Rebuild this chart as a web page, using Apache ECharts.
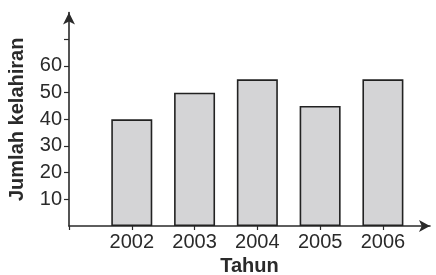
<!DOCTYPE html>
<html>
<head>
<meta charset="utf-8">
<script src="https://cdn.jsdelivr.net/npm/echarts@6/dist/echarts.min.js"></script>
<style>
  html, body { margin: 0; padding: 0; background: #fff; }
  #chart { width: 436px; height: 275px; }
</style>
</head>
<body>
<div id="chart"></div>
<script>
// data
var tahun = [2002, 2003, 2004, 2005, 2006];
var kelahiran = [40, 50, 55, 45, 55];
var yTicks = [10, 20, 30, 40, 50, 60, 70];
var yLabels = [10, 20, 30, 40, 50, 60];

var barData = [];
for (var i = 0; i < tahun.length; i++) {
    barData.push([tahun[i], kelahiran[i]]);
}

var ink = '#2a2a2a';
var font = 'Liberation Sans';

var myChart = echarts.init(document.getElementById('chart'), null, {renderer: 'canvas'});
var option = {
    animation: false,
    backgroundColor: '#fff',
    grid: {
        left: 69,
        right: 6,
        top: 12.6,
        bottom: 49,
        containLabel: false,
        outerBoundsMode: 'none'
    },
    xAxis: {
        type: 'value',
        min: 2001,
        max: 2006.75,
        name: 'Tahun',
        nameLocation: 'middle',
        nameGap: 29,
        nameTextStyle: {color: ink, fontFamily: font, fontSize: 20, fontWeight: 'bold'},
        splitLine: {show: false},
        axisLine: {
            show: true,
            symbol: ['none', 'arrow'],
            symbolSize: [9, 11],
            lineStyle: {color: ink, width: 1.6}
        },
        axisTick: {
            show: true,
            inside: false,
            length: 4,
            customValues: [2001].concat(tahun),
            lineStyle: {color: ink, width: 1.2}
        },
        axisLabel: {
            customValues: tahun,
            formatter: function (v) { return String(v); },
            margin: 6,
            color: ink,
            fontFamily: font,
            fontSize: 20
        }
    },
    yAxis: {
        type: 'value',
        min: 0,
        max: 80,
        name: 'Jumlah kelahiran',
        nameLocation: 'middle',
        nameRotate: 90,
        nameGap: 42,
        nameTextStyle: {color: ink, fontFamily: font, fontSize: 20, fontWeight: 'bold'},
        splitLine: {show: false},
        axisLine: {
            show: true,
            symbol: ['none', 'arrow'],
            symbolSize: [9, 12],
            lineStyle: {color: ink, width: 1.6}
        },
        axisTick: {
            show: true,
            length: 5,
            customValues: yTicks,
            lineStyle: {color: ink, width: 1.2}
        },
        axisLabel: {
            customValues: yLabels,
            margin: 7,
            color: ink,
            fontFamily: font,
            fontSize: 20
        }
    },
    series: [
        {
            type: 'bar',
            data: barData,
            barWidth: 41,
            itemStyle: {
                color: '#d4d4d6',
                borderColor: '#222',
                borderWidth: 1.6
            }
        }
    ]
};
myChart.setOption(option);
</script>
</body>
</html>
